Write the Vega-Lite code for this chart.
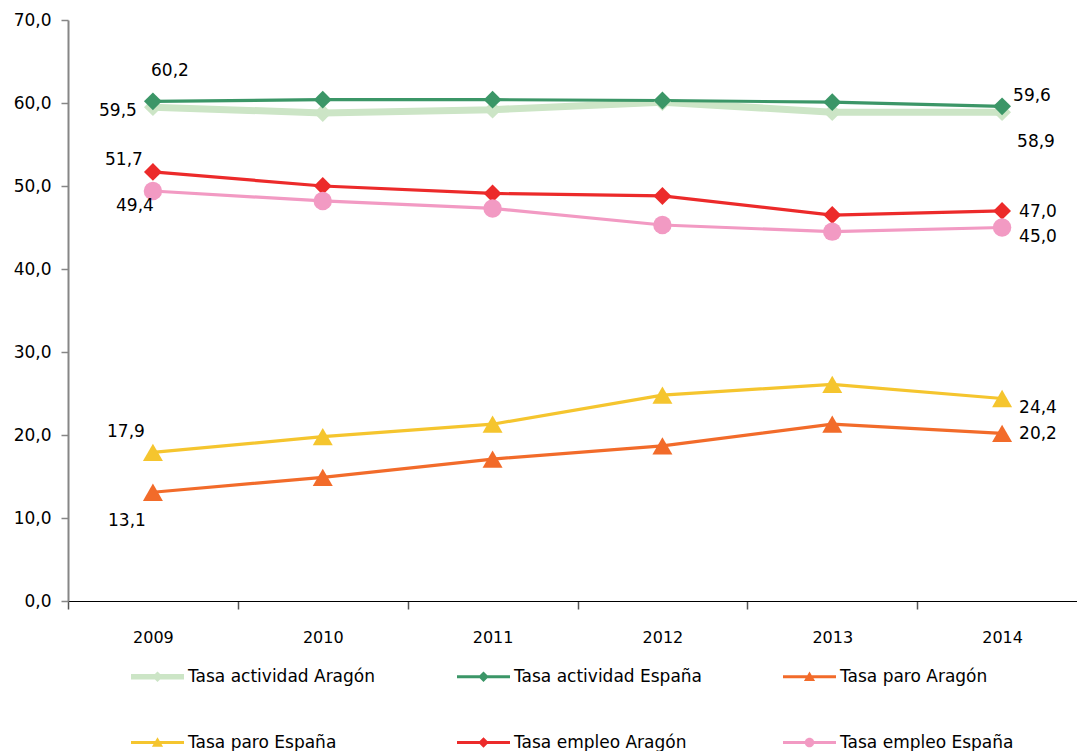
{
  "$schema": "https://vega.github.io/schema/vega-lite/v6.json",
  "width": 1009,
  "height": 581,
  "autosize": {"type": "none"},
  "padding": {"left": 68, "top": 20, "right": 0, "bottom": 150},
  "background": "white",
  "config": {
    "locale": {"number": {"decimal": ",", "thousands": ".", "grouping": [3], "currency": ["", " €"]}},
    "view": {"stroke": null},
    "axis": {"grid": false, "labelFont": "DejaVu Sans", "labelColor": "#000000", "title": null},
    "text": {"font": "DejaVu Sans", "fontSize": 17, "color": "#000000", "baseline": "middle"}
  },
  "datasets": {
    "main": [
      {"year": "2009", "series": "Tasa actividad Aragón", "value": 59.5},
      {"year": "2010", "series": "Tasa actividad Aragón", "value": 58.8},
      {"year": "2011", "series": "Tasa actividad Aragón", "value": 59.2},
      {"year": "2012", "series": "Tasa actividad Aragón", "value": 60.1},
      {"year": "2013", "series": "Tasa actividad Aragón", "value": 58.9},
      {"year": "2014", "series": "Tasa actividad Aragón", "value": 58.9},
      {"year": "2009", "series": "Tasa actividad España", "value": 60.2},
      {"year": "2010", "series": "Tasa actividad España", "value": 60.4},
      {"year": "2011", "series": "Tasa actividad España", "value": 60.4},
      {"year": "2012", "series": "Tasa actividad España", "value": 60.3},
      {"year": "2013", "series": "Tasa actividad España", "value": 60.1},
      {"year": "2014", "series": "Tasa actividad España", "value": 59.6},
      {"year": "2009", "series": "Tasa paro Aragón", "value": 13.1},
      {"year": "2010", "series": "Tasa paro Aragón", "value": 14.9},
      {"year": "2011", "series": "Tasa paro Aragón", "value": 17.1},
      {"year": "2012", "series": "Tasa paro Aragón", "value": 18.7},
      {"year": "2013", "series": "Tasa paro Aragón", "value": 21.3},
      {"year": "2014", "series": "Tasa paro Aragón", "value": 20.2},
      {"year": "2009", "series": "Tasa paro España", "value": 17.9},
      {"year": "2010", "series": "Tasa paro España", "value": 19.8},
      {"year": "2011", "series": "Tasa paro España", "value": 21.3},
      {"year": "2012", "series": "Tasa paro España", "value": 24.8},
      {"year": "2013", "series": "Tasa paro España", "value": 26.1},
      {"year": "2014", "series": "Tasa paro España", "value": 24.4},
      {"year": "2009", "series": "Tasa empleo Aragón", "value": 51.7},
      {"year": "2010", "series": "Tasa empleo Aragón", "value": 50.0},
      {"year": "2011", "series": "Tasa empleo Aragón", "value": 49.1},
      {"year": "2012", "series": "Tasa empleo Aragón", "value": 48.8},
      {"year": "2013", "series": "Tasa empleo Aragón", "value": 46.5},
      {"year": "2014", "series": "Tasa empleo Aragón", "value": 47.0},
      {"year": "2009", "series": "Tasa empleo España", "value": 49.4},
      {"year": "2010", "series": "Tasa empleo España", "value": 48.2},
      {"year": "2011", "series": "Tasa empleo España", "value": 47.3},
      {"year": "2012", "series": "Tasa empleo España", "value": 45.3},
      {"year": "2013", "series": "Tasa empleo España", "value": 44.5},
      {"year": "2014", "series": "Tasa empleo España", "value": 45.0}
    ]
  },
  "data": {"name": "main"},
  "encoding": {
    "x": {
      "field": "year", "type": "ordinal", "bandPosition": 0.5,
      "scale": {"type": "band", "paddingInner": 0, "paddingOuter": 0, "range": [0, 1019]},
      "axis": {"tickBand": "extent", "domainColor": "#000000", "domainWidth": 1, "tickColor": "#555555", "tickSize": 8, "tickWidth": 1.5, "labelFontSize": 16, "labelPadding": 20, "labelAngle": 0}
    },
    "y": {
      "field": "value", "type": "quantitative",
      "scale": {"domain": [0, 70], "nice": false},
      "axis": {"values": [0, 10, 20, 30, 40, 50, 60, 70], "format": ".1f", "domainColor": "#868686", "domainWidth": 2, "tickColor": "#868686", "tickSize": 7, "tickWidth": 1.5, "labelFontSize": 17, "labelPadding": 10}
    }
  },
  "layer": [
    {
      "transform": [{"filter": "datum.series == 'Tasa actividad Aragón'"}],
      "mark": {"type": "line", "strokeWidth": 7},
      "encoding": {
        "color": {"field": "series", "type": "nominal", "legend": null,
          "scale": {"domain": ["Tasa actividad España", "Tasa actividad Aragón", "Tasa paro Aragón", "Tasa paro España", "Tasa empleo Aragón", "Tasa empleo España"],
                    "range": ["#3B9667", "#CCE5C6", "#F26B2A", "#F5C52E", "#EC2A2A", "#F29AC3"]}}
      }
    },
    {
      "transform": [{"filter": "datum.series != 'Tasa actividad Aragón'"}],
      "mark": {"type": "line", "strokeWidth": 3.2},
      "encoding": {"color": {"field": "series", "type": "nominal", "legend": null}}
    },
    {
      "transform": [{"filter": {"field": "series", "oneOf": ["Tasa actividad Aragón", "Tasa actividad España", "Tasa empleo Aragón"]}}],
      "mark": {"type": "point", "shape": "diamond", "filled": true, "opacity": 1, "size": 320},
      "encoding": {"color": {"field": "series", "type": "nominal", "legend": null}}
    },
    {
      "transform": [{"filter": {"field": "series", "oneOf": ["Tasa paro Aragón", "Tasa paro España"]}}],
      "mark": {"type": "point", "shape": "triangle-up", "filled": true, "opacity": 1, "size": 400},
      "encoding": {"color": {"field": "series", "type": "nominal", "legend": null}}
    },
    {
      "transform": [{"filter": {"field": "series", "oneOf": ["Tasa empleo España"]}}],
      "mark": {"type": "point", "shape": "circle", "filled": true, "opacity": 1, "size": 340},
      "encoding": {"color": {"field": "series", "type": "nominal", "legend": null}}
    },
    {
      "mark": {"type": "point", "filled": true, "fillOpacity": 0, "strokeOpacity": 0, "size": 2809},
      "encoding": {
        "shape": {"field": "series", "type": "nominal",
          "scale": {"domain": ["Tasa actividad Aragón", "Tasa actividad España", "Tasa paro Aragón", "Tasa paro España", "Tasa empleo Aragón", "Tasa empleo España"],
                    "range": [
                      "M-1,-0.1H1V0.1H-1Z M0,-0.2L0.2,0L0,0.2L-0.2,0Z",
                      "M-1,-0.06H1V0.06H-1Z M0,-0.2L0.2,0L0,0.2L-0.2,0Z",
                      "M-1,-0.06H1V0.06H-1Z M0,-0.2L0.21,0.16L-0.21,0.16Z",
                      "M-1,-0.06H1V0.06H-1Z M0,-0.2L0.21,0.16L-0.21,0.16Z",
                      "M-1,-0.06H1V0.06H-1Z M0,-0.2L0.2,0L0,0.2L-0.2,0Z",
                      "M-1,-0.06H1V0.06H-1Z M-0.18,0A0.18,0.18,0,1,1,0.18,0A0.18,0.18,0,1,1,-0.18,0Z"
                    ]},
          "legend": {"title": null, "orient": "none", "legendX": 63, "legendY": 630, "direction": "horizontal", "columns": 3, "gridAlign": "all", "columnPadding": 80, "rowPadding": 31, "symbolSize": 2809, "symbolOpacity": 1, "symbolStrokeWidth": 0, "labelFont": "DejaVu Sans", "labelFontSize": 17, "labelColor": "#000000", "labelOffset": 4, "labelLimit": 300,
            "encode": {"symbols": {"update": {"opacity": {"value": 1}, "fillOpacity": {"value": 1}}}}}
        },
        "fill": {"field": "series", "type": "nominal",
          "scale": {"domain": ["Tasa actividad Aragón", "Tasa actividad España", "Tasa paro Aragón", "Tasa paro España", "Tasa empleo Aragón", "Tasa empleo España"],
                    "range": ["#CCE5C6", "#3B9667", "#F26B2A", "#F5C52E", "#EC2A2A", "#F29AC3"]},
          "legend": {"title": null, "orient": "none", "legendX": 63, "legendY": 630, "direction": "horizontal", "columns": 3, "gridAlign": "all", "columnPadding": 80, "rowPadding": 31, "symbolSize": 2809, "symbolOpacity": 1, "symbolStrokeWidth": 0, "labelFont": "DejaVu Sans", "labelFontSize": 17, "labelColor": "#000000", "labelOffset": 4, "labelLimit": 300,
            "encode": {"symbols": {"update": {"opacity": {"value": 1}, "fillOpacity": {"value": 1}}}}}
        }
      }
    },
    {"transform": [{"filter": "datum.series == 'Tasa actividad España' && datum.year == '2009'"}], "mark": {"type": "text", "align": "center", "dx": 17, "dy": -30}, "encoding": {"text": {"field": "value", "type": "quantitative", "format": ".1f"}}},
    {"transform": [{"filter": "datum.series == 'Tasa actividad Aragón' && datum.year == '2009'"}], "mark": {"type": "text", "align": "right", "dx": -16, "dy": 4}, "encoding": {"text": {"field": "value", "type": "quantitative", "format": ".1f"}}},
    {"transform": [{"filter": "datum.series == 'Tasa empleo Aragón' && datum.year == '2009'"}], "mark": {"type": "text", "align": "right", "dx": -10, "dy": -12}, "encoding": {"text": {"field": "value", "type": "quantitative", "format": ".1f"}}},
    {"transform": [{"filter": "datum.series == 'Tasa empleo España' && datum.year == '2009'"}], "mark": {"type": "text", "align": "right", "dx": 1, "dy": 15}, "encoding": {"text": {"field": "value", "type": "quantitative", "format": ".1f"}}},
    {"transform": [{"filter": "datum.series == 'Tasa paro España' && datum.year == '2009'"}], "mark": {"type": "text", "align": "right", "dx": -8, "dy": -20}, "encoding": {"text": {"field": "value", "type": "quantitative", "format": ".1f"}}},
    {"transform": [{"filter": "datum.series == 'Tasa paro Aragón' && datum.year == '2009'"}], "mark": {"type": "text", "align": "right", "dx": -7, "dy": 29}, "encoding": {"text": {"field": "value", "type": "quantitative", "format": ".1f"}}},
    {"transform": [{"filter": "datum.series == 'Tasa actividad España' && datum.year == '2014'"}], "mark": {"type": "text", "align": "left", "dx": 11, "dy": -10}, "encoding": {"text": {"field": "value", "type": "quantitative", "format": ".1f"}}},
    {"transform": [{"filter": "datum.series == 'Tasa actividad Aragón' && datum.year == '2014'"}], "mark": {"type": "text", "align": "left", "dx": 15, "dy": 30}, "encoding": {"text": {"field": "value", "type": "quantitative", "format": ".1f"}}},
    {"transform": [{"filter": "datum.series == 'Tasa empleo Aragón' && datum.year == '2014'"}], "mark": {"type": "text", "align": "left", "dx": 17, "dy": 1}, "encoding": {"text": {"field": "value", "type": "quantitative", "format": ".1f"}}},
    {"transform": [{"filter": "datum.series == 'Tasa empleo España' && datum.year == '2014'"}], "mark": {"type": "text", "align": "left", "dx": 17, "dy": 9}, "encoding": {"text": {"field": "value", "type": "quantitative", "format": ".1f"}}},
    {"transform": [{"filter": "datum.series == 'Tasa paro España' && datum.year == '2014'"}], "mark": {"type": "text", "align": "left", "dx": 17, "dy": 10}, "encoding": {"text": {"field": "value", "type": "quantitative", "format": ".1f"}}},
    {"transform": [{"filter": "datum.series == 'Tasa paro Aragón' && datum.year == '2014'"}], "mark": {"type": "text", "align": "left", "dx": 17, "dy": 1}, "encoding": {"text": {"field": "value", "type": "quantitative", "format": ".1f"}}}
  ]
}
